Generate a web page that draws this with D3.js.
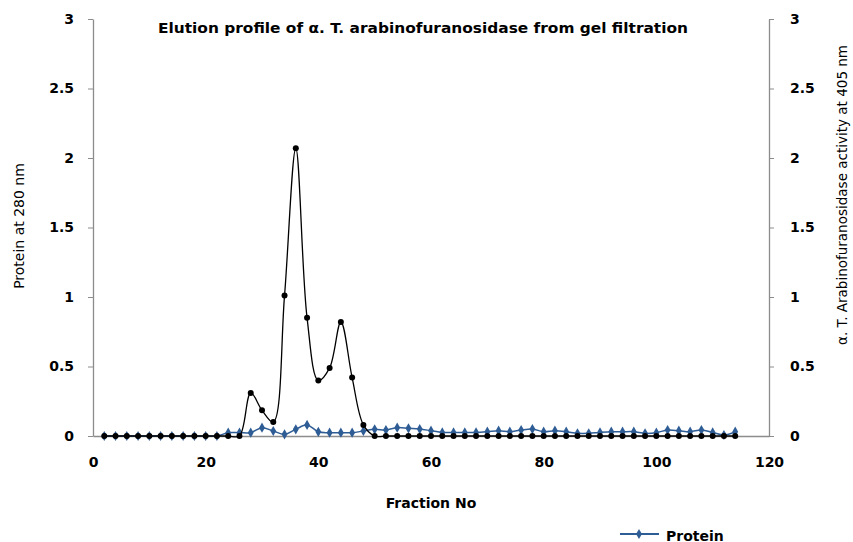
<!DOCTYPE html>
<html>
<head>
<meta charset="utf-8">
<script src="https://cdn.jsdelivr.net/npm/d3@7"></script>
<style>
body { margin: 0; background: #fff; }
text { font-family: "DejaVu Sans", "Liberation Sans", sans-serif; }
</style>
</head>
<body>
<script>
var width = 853;
var height = 542;

// fractions 2..114, every second one
var fractions = d3.range(2, 115, 2);

var activity = [0, 0, 0, 0, 0, 0, 0, 0, 0, 0, 0, 0, 0,
    0.31, 0.185, 0.10, 1.01, 2.07, 0.85, 0.40, 0.49, 0.82, 0.42, 0.08,
    0, 0, 0, 0, 0, 0, 0, 0, 0, 0, 0, 0, 0, 0, 0, 0, 0, 0, 0, 0, 0, 0, 0,
    0, 0, 0, 0, 0, 0, 0, 0, 0, 0];

var protein = [0, 0, 0, 0, 0, 0, 0, 0, 0, 0, 0, 0.024,
    0.024, 0.024, 0.06, 0.036, 0.012, 0.048, 0.08, 0.03, 0.024, 0.024, 0.024, 0.036, 0.048,
    0.043, 0.06, 0.055, 0.05, 0.038, 0.026, 0.026, 0.026, 0.026, 0.031, 0.038, 0.031, 0.043,
    0.05, 0.031, 0.038, 0.031, 0.019, 0.019, 0.026, 0.031, 0.031, 0.031, 0.019, 0.024,
    0.043, 0.038, 0.031, 0.043, 0.026, 0.007, 0.031];

var yTicks = [0, 0.5, 1, 1.5, 2, 2.5, 3];
var xTicks = [0, 20, 40, 60, 80, 100, 120];

var x = d3.scaleLinear().domain([0, 120]).range([93, 769]);
var yLeft = d3.scaleLinear().domain([0, 3]).range([436, 19]);
var yRight = d3.scaleLinear().domain([0, 3]).range([436, 19]);

var svg = d3.select("body")
    .append("svg")
    .attr("width", width)
    .attr("height", height);

// axes
svg.append("g")
    .attr("transform", "translate(0,436)")
    .call(d3.axisBottom(x).tickValues(xTicks).tickSize(0).tickPadding(21));

svg.append("g")
    .attr("transform", "translate(93,0)")
    .call(d3.axisLeft(yLeft).tickValues(yTicks).tickSizeOuter(0).tickSizeInner(5).tickPadding(14)
        .tickFormat(d3.format("")));

svg.append("g")
    .attr("transform", "translate(769,0)")
    .call(d3.axisRight(yRight).tickValues(yTicks).tickSizeOuter(0).tickSizeInner(5).tickPadding(16)
        .tickFormat(d3.format("")));

svg.selectAll(".domain").attr("stroke", "#8c8c8c").attr("stroke-width", 1.3);
svg.selectAll(".tick line").attr("stroke", "#8c8c8c");
svg.selectAll(".tick text")
    .attr("fill", "#000")
    .style("font-family", "'DejaVu Sans', sans-serif")
    .style("font-size", "14px")
    .style("font-weight", "bold");

// lines
var protLine = d3.line()
    .x(function(d, i) { return x(fractions[i]); })
    .y(function(d) { return yLeft(d); })
    .curve(d3.curveCatmullRom.alpha(0.5));

var actLine = d3.line()
    .x(function(d, i) { return x(fractions[i]); })
    .y(function(d) { return yRight(d); })
    .curve(d3.curveCatmullRom.alpha(0.5));

var diamond = d3.symbol().type(d3.symbolDiamond).size(30);

svg.append("path")
    .datum(protein)
    .attr("fill", "none")
    .attr("stroke", "#2e5c94")
    .attr("stroke-width", 1.5)
    .attr("d", protLine);

svg.selectAll(".prot")
    .data(protein)
    .enter()
    .append("path")
    .attr("class", "prot")
    .attr("d", diamond)
    .attr("transform", function(d, i) { return "translate(" + x(fractions[i]) + "," + yLeft(d) + ")"; })
    .attr("fill", "#2e5c94");

svg.append("path")
    .datum(activity)
    .attr("fill", "none")
    .attr("stroke", "#000")
    .attr("stroke-width", 1.3)
    .attr("d", actLine);

svg.selectAll(".act")
    .data(activity)
    .enter()
    .append("circle")
    .attr("class", "act")
    .attr("cx", function(d, i) { return x(fractions[i]); })
    .attr("cy", function(d) { return yRight(d); })
    .attr("r", 3)
    .attr("fill", "#000");

// texts
svg.append("text")
    .attr("x", 158)
    .attr("y", 33)
    .attr("textLength", 530)
    .attr("lengthAdjust", "spacingAndGlyphs")
    .style("font-size", "14px")
    .style("font-weight", "bold")
    .text("Elution profile of α. T.  arabinofuranosidase from gel filtration");

svg.append("text")
    .attr("transform", "translate(24,226) rotate(-90)")
    .attr("text-anchor", "middle")
    .style("font-size", "14px")
    .text("Protein at 280 nm");

svg.append("text")
    .attr("transform", "translate(847,345) rotate(-90)")
    .attr("textLength", 300)
    .attr("lengthAdjust", "spacingAndGlyphs")
    .style("font-size", "14px")
    .text("α. T. Arabinofuranosidase activity at 405 nm");

svg.append("text")
    .attr("x", 431)
    .attr("y", 508)
    .attr("text-anchor", "middle")
    .style("font-size", "14px")
    .style("font-weight", "bold")
    .text("Fraction No");

// legend
svg.append("line")
    .attr("x1", 620).attr("x2", 659)
    .attr("y1", 534).attr("y2", 534)
    .attr("stroke", "#2e5c94")
    .attr("stroke-width", 2);

svg.append("path")
    .attr("d", diamond)
    .attr("transform", "translate(639,534)")
    .attr("fill", "#2e5c94");

svg.append("text")
    .attr("x", 666)
    .attr("y", 541)
    .style("font-size", "14px")
    .style("font-weight", "bold")
    .text("Protein");
</script>
</body>
</html>
